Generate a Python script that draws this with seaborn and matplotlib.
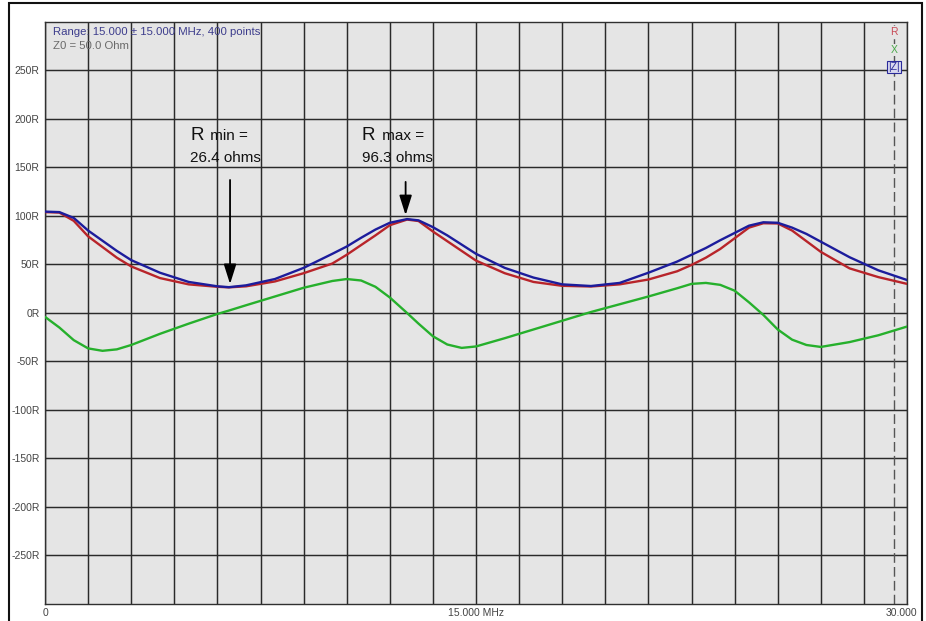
import matplotlib
matplotlib.use('Agg')
import numpy as np
import pandas as pd
import seaborn as sns
import matplotlib.pyplot as plt
from matplotlib.patches import Rectangle

# frequency points (MHz)
freq = [0, 0.5, 1, 1.5, 2, 2.5, 3, 4, 5, 6, 6.4, 7, 8, 9, 10, 10.5, 11, 11.5, 12, 12.6,
        13, 13.5, 14, 14.5, 15, 16, 17, 18, 19, 20, 21, 22, 22.5, 23, 23.5, 24, 24.5,
        25, 25.5, 26, 26.5, 27, 28, 29, 30]

# R (red)
r_vals = [104, 103.5, 95, 79, 68, 57, 48, 36, 29.5, 27, 26.4, 27.5, 32.5, 41, 51, 60, 70, 80,
          90.5, 96.3, 94.8, 84, 74, 64, 54, 41, 32, 28, 27.3, 29.5, 34.5, 43, 49.5, 57, 66,
          77, 88, 92.5, 92.3, 85, 74, 63, 46, 37, 30]

# X (green)
x_vals = [-4, -15, -28, -36.5, -39, -37.5, -33, -21.5, -11, -1, 2.5, 8, 17, 26, 33, 35, 33.5,
          27, 16, 0, -11, -24, -32.5, -36, -34.5, -26, -17, -8, 1, 9, 17, 25.5, 30, 31, 29,
          23, 11, -2, -17, -27.5, -33, -35, -30, -23, -14]

# |Z| (blue)
z_vals = [104.5, 104, 98, 85, 74.5, 64, 54.5, 41.5, 32, 27.5, 26.6, 28.5, 35, 46.5, 61, 68.5,
          77.5, 86, 93, 96.8, 95.5, 88.5, 80, 70.5, 61, 46.5, 36.5, 29.5, 27.8, 31, 41.5, 53,
          60, 67, 75, 82.5, 90, 93.5, 93, 88, 81.5, 73.5, 57.5, 44, 34]

y_ticks = [250, 200, 150, 100, 50, 0, -50, -100, -150, -200, -250]
y_labels = ["%dR" % v for v in y_ticks]

sns.set_style("white")
plt.rcParams['font.family'] = ['Liberation Sans', 'DejaVu Sans']

df = pd.concat([
    pd.DataFrame({'freq': freq, 'ohms': x_vals, 'trace': 'X'}),
    pd.DataFrame({'freq': freq, 'ohms': r_vals, 'trace': 'R'}),
    pd.DataFrame({'freq': freq, 'ohms': z_vals, 'trace': '|Z|'}),
])
palette = {'R': '#b8242a', 'X': '#26b02c', '|Z|': '#1c1c9c'}

fig = plt.figure(figsize=(9.26, 6.21), dpi=100)
ax = fig.add_axes([0.0486, 0.0274, 0.9309, 0.9372])
ax.set_facecolor('#e5e5e5')

sns.lineplot(data=df, x='freq', y='ohms', hue='trace', palette=palette,
             hue_order=['X', 'R', '|Z|'], legend=False, linewidth=1.7, ax=ax, zorder=3)

ax.set_xlim(0, 30)
ax.set_ylim(-300, 300)
ax.set_xticks(np.arange(0, 30.01, 1.5))
ax.set_xticklabels([])
ax.set_yticks(y_ticks)
ax.set_yticklabels(y_labels)
ax.tick_params(length=0, labelsize=7.5, labelcolor='#444444', pad=4)
ax.tick_params(axis='x', pad=0)
ax.grid(True, color='#2a2a2a', linewidth=1.05)
ax.set_axisbelow(True)
ax.set_xlabel("")
ax.set_ylabel("")
for sp in ax.spines.values():
    sp.set_color('#303030')
    sp.set_linewidth(1.0)

# marker line
ax.axvline(29.55, color='#555555', linestyle=(0, (7, 3)), linewidth=1.0, zorder=2)

# x labels
xt = ax.get_xaxis_transform()
ax.text(0, -0.015, "0", transform=xt, ha='center', va='center', fontsize=7.5, color='#444444')
ax.text(15, -0.015, "15.000 MHz", transform=xt, ha='center', va='center', fontsize=7.5, color='#444444')
ax.text(29.8, -0.015, "30.000", transform=xt, ha='center', va='center', fontsize=7.5, color='#444444')

# header texts
ax.text(0.009, 0.983, "Range: 15.000 \u00b1 15.000 MHz, 400 points", transform=ax.transAxes,
        ha='left', va='center', fontsize=8.2, color='#3c3c8c')
ax.text(0.009, 0.958, "Z0 = 50.0 Ohm", transform=ax.transAxes,
        ha='left', va='center', fontsize=8.2, color='#6a6a6a')

# trace legend at right
bg = dict(boxstyle='square,pad=0.1', fc='#e5e5e5', ec='none')
ax.text(29.55, 0.983, "R", transform=xt, ha='center', va='center', fontsize=7.5, color='#c84a56',
        bbox=bg, zorder=4)
ax.text(29.55, 0.952, "X", transform=xt, ha='center', va='center', fontsize=7.5, color='#4aa84a',
        bbox=bg, zorder=4)
ax.text(29.55, 0.922, "|Z|", transform=xt, ha='center', va='center', fontsize=7.5, color='#2a2a9a',
        bbox=dict(boxstyle='square,pad=0.1', fc='#d8d8ef', ec='#2a2a9a', lw=0.8), zorder=4)

# annotations
ax.text(5.05, 178, "R", fontsize=13.5, ha='left', va='baseline', color='#111111')
ax.text(5.6, 178, " min =", fontsize=11, ha='left', va='baseline', color='#111111')
ax.text(5.05, 156, "26.4 ohms", fontsize=11, ha='left', va='baseline', color='#111111')
ax.annotate("", xy=(6.44, 27), xytext=(6.44, 140),
            arrowprops=dict(arrowstyle='-|>,head_width=0.38,head_length=1.2', color='black', lw=1.3))

ax.text(11.03, 178, "R", fontsize=13.5, ha='left', va='baseline', color='#111111')
ax.text(11.58, 178, " max =", fontsize=11, ha='left', va='baseline', color='#111111')
ax.text(11.03, 156, "96.3 ohms", fontsize=11, ha='left', va='baseline', color='#111111')
ax.annotate("", xy=(12.55, 98), xytext=(12.55, 138),
            arrowprops=dict(arrowstyle='-|>,head_width=0.38,head_length=1.2', color='black', lw=1.3))

# outer frame of the screenshot
fig.patches.append(Rectangle((9 / 926, -0.01), 913 / 926, 1.005, transform=fig.transFigure,
                             fill=False, edgecolor='#111111', linewidth=1.5))

fig.savefig("out.png", dpi=100)
